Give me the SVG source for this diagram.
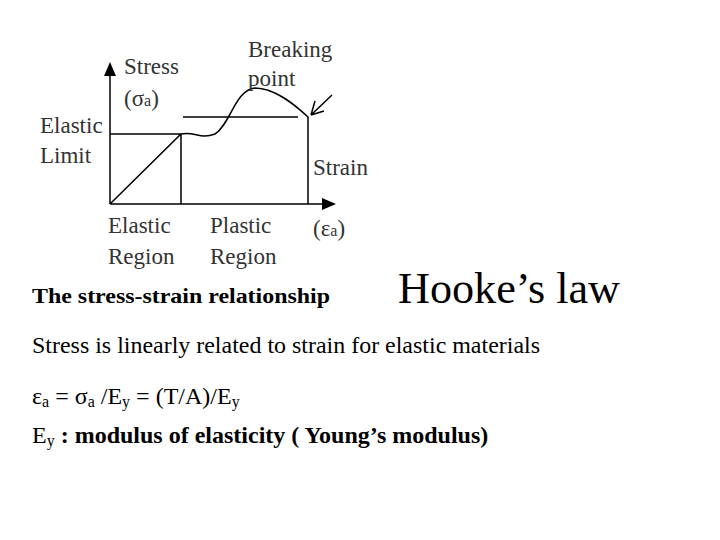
<svg xmlns="http://www.w3.org/2000/svg" width="720" height="540" viewBox="0 0 720 540">
<style>
.l{fill:none;stroke:#000;stroke-width:1.5}
.d{font-family:"Liberation Serif",serif;font-size:23px;fill:#333}
.t{font-family:"Liberation Serif",serif;fill:#000}
</style>
<rect width="720" height="540" fill="#fff"/>
<g id="chart">
<path class="l" d="M110,204V72M110,204H326M110,134H181V204M110,204L181,134C195,131 200,140 215,134C230,125 235,90 255,88C275,88 295,105 308,117V204M183,117H298M332,95L311,115M311,115L315,101M311,115L324,111"/>
<polygon points="110,62 104,76 116,76"/>
<polygon points="336,204 322,198 322,210"/>
<text class="d" x="124" y="74">Stress</text>
<text class="d" x="124" y="106">(σ<tspan font-size="16">a</tspan>)</text>
<text class="d" x="248" y="57">Breaking</text>
<text class="d" x="248" y="86">point</text>
<text class="d" x="40" y="133">Elastic</text>
<text class="d" x="40" y="163">Limit</text>
<text class="d" x="313" y="175">Strain</text>
<text class="d" x="108" y="233">Elastic</text>
<text class="d" x="108" y="264">Region</text>
<text class="d" x="210" y="233">Plastic</text>
<text class="d" x="210" y="264">Region</text>
<text class="d" x="313" y="236">(ε<tspan font-size="16">a</tspan>)</text>
</g>
<g id="texts">
<text class="t" x="32" y="303" font-size="21" font-weight="bold" textLength="298" lengthAdjust="spacingAndGlyphs">The stress-strain relationship</text>
<text class="t" x="398" y="303" font-size="44" textLength="222" lengthAdjust="spacingAndGlyphs">Hooke’s law</text>
<text class="t" x="32" y="353" font-size="23" textLength="508" lengthAdjust="spacingAndGlyphs">Stress is linearly related to strain for elastic materials</text>
<text class="t" x="32" y="404" font-size="24">ε<tspan font-size="16" dy="3">a</tspan><tspan dy="-3"> = σ</tspan><tspan font-size="16" dy="3">a</tspan><tspan dy="-3"> /E</tspan><tspan font-size="16" dy="3">y</tspan><tspan dy="-3"> = (T/A)/E</tspan><tspan font-size="16" dy="3">y</tspan></text>
<text class="t" x="32" y="443" font-size="24">E<tspan font-size="16" dy="3">y</tspan><tspan dy="-3" font-weight="bold"> : modulus of elasticity ( Young’s modulus)</tspan></text>
</g>
</svg>
